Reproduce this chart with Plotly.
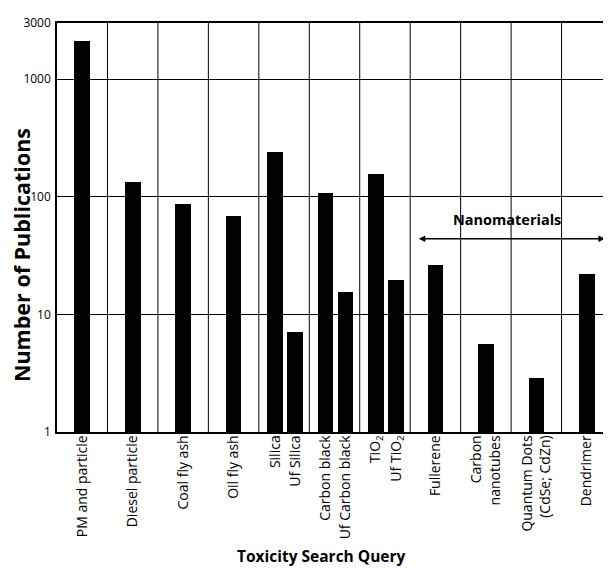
import plotly.graph_objects as go

# ---- data ----
labels = ["PM and particle", "Diesel particle", "Coal fly ash", "Oil fly ash",
          "Silica", "Uf Silica", "Carbon black", "Uf Carbon black",
          "TiO<sub>2</sub>", "Uf TiO<sub>2</sub>", "Fullerene",
          "Carbon<br>nanotubes", "Quantum Dots<br>(CdSe; CdZn)", "Dendrimer"]
values = [2100, 134, 87, 69, 242, 7.1, 108, 15.5, 157, 19.7, 26.4, 5.6, 2.9, 22]
column = [0, 1, 2, 3, 4, 4, 5, 5, 6, 6, 7, 8, 9, 10]
pair_slot = [0, 0, 0, 0, -1, 1, -1, 1, -1, 1, 0, 0, 0, 0]  # position within column
y_tick_vals = [1, 10, 100, 1000, 3000]
y_tick_text = ["1", "10", "100", "1000", "3000"]
n_columns = 11

# ---- layout constants ----
PAIR_OFF = {-1: -0.18, 0: 0.0, 1: 0.22}
xpos = [c + PAIR_OFF[s] for c, s in zip(column, pair_slot)]
FONT = "Open Sans"

fig = go.Figure()
fig.add_trace(go.Bar(
    x=xpos, y=values, width=0.31,
    marker=dict(color="black", line=dict(width=0)),
    showlegend=False,
))

# vertical separators between columns
shapes = []
for k in range(n_columns - 1):
    shapes.append(dict(type="line", xref="x", yref="paper",
                       x0=k + 0.5, x1=k + 0.5, y0=0, y1=1,
                       line=dict(color="black", width=1), layer="below"))

# page body has an 8px default margin, so the figure is slightly smaller
fig.update_layout(
    width=603, height=564,
    margin=dict(l=49, r=0, t=15, b=140, autoexpand=False),
    paper_bgcolor="white", plot_bgcolor="white",
    shapes=shapes,
    bargap=0,
    font=dict(family=FONT, color="black"),
    xaxis=dict(
        range=[-0.5, 10.48], tickmode="array", tickvals=xpos, ticktext=labels,
        tickangle=-90, tickfont=dict(size=14, family=FONT, color="black"),
        ticklabelstandoff=-4,
        showgrid=False, zeroline=False, ticks="", automargin=False,
        showline=True, linecolor="black", linewidth=1.5, mirror=True,
    ),
    yaxis=dict(
        type="log", range=[0, 3.4771],
        tickmode="array", tickvals=y_tick_vals, ticktext=y_tick_text,
        tickfont=dict(size=12, family=FONT, color="black"),
        ticklabelstandoff=2,
        showgrid=True, gridcolor="black", gridwidth=1,
        zeroline=False, ticks="", automargin=False,
        showline=True, linecolor="black", linewidth=1.5, mirror=True,
    ),
    annotations=[
        dict(text="<b>Number of Publications</b>", xref="paper", yref="paper",
             x=-0.063, y=0.433, xanchor="center", yanchor="middle",
             textangle=-90, showarrow=False,
             font=dict(size=21.5, family=FONT, color="black")),
        dict(text="<b>Toxicity Search Query</b>", xref="paper", yref="paper",
             x=0.477, y=-0.303, xanchor="center", yanchor="middle",
             showarrow=False,
             font=dict(size=15.5, family=FONT, color="black")),
        dict(text="<b>Nanomaterials</b>", xref="x", yref="y",
             x=8.42, y=1.804, xanchor="center", yanchor="middle",
             showarrow=False,
             font=dict(size=14.5, family=FONT, color="black")),
        dict(text="", xref="x", yref="y", x=10.36, y=1.643,
             axref="x", ayref="y", ax=6.64, ay=1.643,
             showarrow=True, arrowhead=2, startarrowhead=2, arrowside="end+start",
             arrowsize=1, arrowwidth=1.3, arrowcolor="black"),
    ],
)

fig.write_html("out.html")
